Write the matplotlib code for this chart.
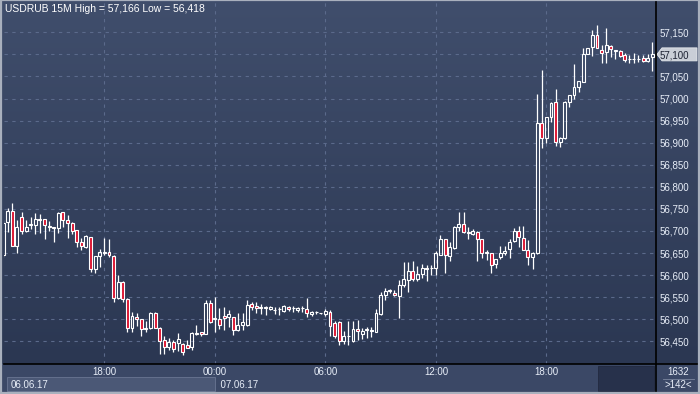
import numpy as np
import pandas as pd
import matplotlib
matplotlib.use("Agg")
import matplotlib.pyplot as plt
import matplotlib.transforms as mtransforms
from matplotlib.patches import Rectangle, Polygon
from matplotlib.colors import LinearSegmentedColormap

# ================= DADOS =================
SYMBOL = "USDRUB"
PERIOD = "15M"
START = "2017-06-06 12:30"

open_ = [56.645, 56.721, 56.745, 56.665, 56.732, 56.700, 56.714, 56.713, 56.727, 56.726,
         56.708, 56.709, 56.706, 56.742, 56.724, 56.719, 56.701, 56.675, 56.664, 56.686,
         56.613, 56.644, 56.651, 56.652, 56.644, 56.548, 56.584, 56.545, 56.479, 56.505,
         56.500, 56.478, 56.479, 56.513, 56.479, 56.452, 56.438, 56.449, 56.447, 56.445,
         56.441, 56.436, 56.467, 56.470, 56.467, 56.537, 56.501, 56.500, 56.507, 56.504,
         56.505, 56.475, 56.487, 56.487, 56.534, 56.530, 56.526, 56.526, 56.523, 56.521,
         56.523, 56.519, 56.528, 56.525, 56.521, 56.525, 56.523, 56.512, 56.516, 56.513,
         56.512, 56.516, 56.491, 56.493, 56.451, 56.461, 56.451, 56.477, 56.466, 56.476,
         56.474, 56.472, 56.512, 56.555, 56.565, 56.560, 56.553, 56.578, 56.589, 56.609,
         56.591, 56.602, 56.614, 56.616, 56.615, 56.646, 56.681, 56.644, 56.661, 56.710,
         56.715, 56.698, 56.694, 56.698, 56.681, 56.649, 56.650, 56.624, 56.640, 56.651,
         56.658, 56.678, 56.699, 56.683, 56.657, 56.640, 56.651, 56.944, 56.910, 56.959,
         56.993, 56.902, 56.910, 56.991, 57.008, 57.025, 57.038, 57.101, 57.116, 57.144,
         57.111, 57.105, 57.119, 57.108, 57.108, 57.098, 57.089, 57.089, 57.089, 57.091,
         57.086, 57.093]

high = [56.725, 56.752, 56.764, 56.725, 56.742, 56.724, 56.732, 56.741, 56.739, 56.727,
        56.723, 56.710, 56.743, 56.744, 56.736, 56.720, 56.702, 56.683, 56.690, 56.687,
        56.644, 56.660, 56.683, 56.681, 56.645, 56.600, 56.586, 56.548, 56.517, 56.513,
        56.501, 56.495, 56.517, 56.516, 56.483, 56.461, 56.457, 56.453, 56.468, 56.446,
        56.454, 56.470, 56.487, 56.471, 56.544, 56.544, 56.550, 56.526, 56.527, 56.522,
        56.506, 56.513, 56.513, 56.544, 56.540, 56.540, 56.534, 56.531, 56.531, 56.528,
        56.528, 56.532, 56.531, 56.530, 56.528, 56.530, 56.549, 56.519, 56.519, 56.515,
        56.523, 56.521, 56.496, 56.496, 56.474, 56.496, 56.496, 56.498, 56.481, 56.482,
        56.482, 56.524, 56.562, 56.571, 56.568, 56.566, 56.589, 56.630, 56.630, 56.632,
        56.621, 56.624, 56.623, 56.623, 56.655, 56.691, 56.682, 56.676, 56.711, 56.743,
        56.744, 56.710, 56.705, 56.700, 56.682, 56.657, 56.651, 56.637, 56.667, 56.667,
        56.681, 56.706, 56.711, 56.711, 56.680, 56.652, 57.010, 57.065, 56.958, 56.993,
        57.021, 56.912, 56.994, 57.008, 57.078, 57.040, 57.114, 57.114, 57.155, 57.166,
        57.121, 57.159, 57.121, 57.111, 57.109, 57.102, 57.098, 57.102, 57.098, 57.098,
        57.100, 57.129]

low = [56.642, 56.698, 56.665, 56.650, 56.694, 56.697, 56.704, 56.692, 56.696, 56.681,
       56.700, 56.676, 56.695, 56.710, 56.683, 56.693, 56.664, 56.657, 56.662, 56.608,
       56.604, 56.619, 56.646, 56.641, 56.540, 56.545, 56.540, 56.470, 56.472, 56.485,
       56.461, 56.472, 56.478, 56.481, 56.422, 56.422, 56.430, 56.426, 56.428, 56.418,
       56.434, 56.430, 56.464, 56.463, 56.466, 56.491, 56.470, 56.477, 56.476, 56.483,
       56.464, 56.474, 56.476, 56.485, 56.521, 56.513, 56.512, 56.510, 56.521, 56.512,
       56.509, 56.517, 56.519, 56.516, 56.516, 56.516, 56.504, 56.507, 56.512, 56.511,
       56.507, 56.461, 56.457, 56.442, 56.444, 56.442, 56.449, 56.453, 56.455, 56.458,
       56.459, 56.470, 56.510, 56.544, 56.559, 56.553, 56.502, 56.574, 56.562, 56.587,
       56.587, 56.594, 56.587, 56.600, 56.600, 56.646, 56.605, 56.632, 56.659, 56.699,
       56.695, 56.682, 56.691, 56.633, 56.638, 56.634, 56.605, 56.615, 56.636, 56.646,
       56.638, 56.676, 56.664, 56.656, 56.623, 56.613, 56.648, 56.888, 56.899, 56.947,
       56.892, 56.891, 56.909, 56.980, 57.000, 57.015, 57.038, 57.100, 57.096, 57.114,
       57.080, 57.081, 57.093, 57.089, 57.094, 57.083, 57.080, 57.081, 57.083, 57.083,
       57.083, 57.063]

close = [56.719, 56.745, 56.665, 56.710, 56.700, 56.709, 56.716, 56.728, 56.725, 56.713,
         56.711, 56.706, 56.741, 56.725, 56.717, 56.700, 56.676, 56.666, 56.688, 56.613,
         56.643, 56.652, 56.653, 56.646, 56.548, 56.584, 56.545, 56.480, 56.507, 56.500,
         56.478, 56.479, 56.515, 56.481, 56.451, 56.438, 56.449, 56.432, 56.455, 56.426,
         56.435, 56.468, 56.469, 56.466, 56.537, 56.493, 56.503, 56.486, 56.502, 56.511,
         56.475, 56.486, 56.493, 56.532, 56.527, 56.525, 56.528, 56.527, 56.528, 56.522,
         56.524, 56.530, 56.523, 56.526, 56.526, 56.526, 56.514, 56.517, 56.517, 56.514,
         56.519, 56.485, 56.463, 56.451, 56.461, 56.462, 56.478, 56.473, 56.474, 56.477,
         56.475, 56.513, 56.555, 56.565, 56.566, 56.555, 56.578, 56.591, 56.609, 56.591,
         56.602, 56.615, 56.615, 56.617, 56.650, 56.681, 56.646, 56.664, 56.710, 56.715,
         56.697, 56.695, 56.699, 56.681, 56.650, 56.652, 56.623, 56.636, 56.651, 56.655,
         56.674, 56.699, 56.686, 56.657, 56.640, 56.651, 56.944, 56.910, 56.957, 56.989,
         56.902, 56.910, 56.993, 57.008, 57.025, 57.040, 57.101, 57.114, 57.144, 57.114,
         57.102, 57.121, 57.112, 57.109, 57.096, 57.087, 57.089, 57.090, 57.090, 57.086,
         57.091, 57.100]

price_ticks = [56.45, 56.50, 56.55, 56.60, 56.65, 56.70, 56.75, 56.80,
               56.85, 56.90, 56.95, 57.00, 57.05, 57.10, 57.15]
bars_total = 1632

# ================= CORES =================
BG_TOP, BG_BOT = "#404e6c", "#2b3752"
GRID = "#5b6a8b"
RED = "#dc1430"
TXT = "#e8eef8"

W, H = 700, 394
PLOT_L, PLOT_R, PLOT_T, PLOT_B = 3.5, 656, 2, 364

o = np.array(open_); h = np.array(high); l = np.array(low); c = np.array(close)
x = np.arange(len(c))
times = pd.date_range(START, periods=len(c), freq="15min")

plt.rcParams['font.family'] = ['Liberation Sans', 'DejaVu Sans']
fig = plt.figure(figsize=(W / 100, H / 100), dpi=100)
fig.patch.set_facecolor("#3a4764")

# fundo com degradê (coordenadas em pixels)
ax_bg = fig.add_axes([0, 0, 1, 1])
ax_bg.set_xlim(0, W); ax_bg.set_ylim(H, 0); ax_bg.axis("off")
cmap = LinearSegmentedColormap.from_list("bg", [BG_TOP, BG_BOT])
ax_bg.imshow(np.linspace(0, 1, 256).reshape(-1, 1), cmap=cmap, aspect="auto",
             extent=(0, W, PLOT_B, 0), zorder=0)
ax_bg.add_patch(Rectangle((0, PLOT_B), W, H - PLOT_B, facecolor="#3b4866", edgecolor="none", zorder=1))

# eixo principal
ax = fig.add_axes([PLOT_L / W, (H - PLOT_B) / H, (PLOT_R - PLOT_L) / W, (PLOT_B - PLOT_T) / H])
ax.patch.set_visible(False)
ymin = 57.150 - (PLOT_B - 32.3) * 0.0022654
ymax = 57.150 + (32.3 - PLOT_T) * 0.0022654
ax.set_ylim(ymin, ymax)
ax.set_xlim((PLOT_L - 3.1) / 4.604, (PLOT_R - 3.1) / 4.604)

for s in ["left", "top"]:
    ax.spines[s].set_visible(False)
for s in ["right", "bottom"]:
    ax.spines[s].set_color("#000000"); ax.spines[s].set_linewidth(1.2)

# grade
for p in price_ticks:
    ax.axhline(p, color=GRID, lw=0.8, ls=(0, (3, 4)), zorder=1)
tick_idx = [i for i, t in enumerate(times) if t.minute == 0 and t.hour % 6 == 0]
for i in tick_idx:
    ax.axvline(i, color=GRID, lw=0.8, ls=(0, (3, 4)), zorder=1)

# candles
top = np.maximum(o, c); bot = np.minimum(o, c)
ax.vlines(x, top, h, color="white", lw=0.9, zorder=3)
ax.vlines(x, l, bot, color="white", lw=0.9, zorder=3)
up = c >= o
ax.bar(x[up], (c - o)[up], bottom=o[up], width=0.64, facecolor="none",
       edgecolor="white", linewidth=0.8, zorder=4)
ax.bar(x[~up], (o - c)[~up], bottom=c[~up], width=0.64, facecolor=RED,
       edgecolor="white", linewidth=0.8, zorder=4)

# eixo de preços à direita
ax.yaxis.tick_right()
ax.set_yticks(price_ticks)
ax.set_yticklabels([f"{p:.3f}".replace(".", ",") for p in price_ticks])
ax.tick_params(axis="y", length=0, pad=2.2, labelsize=7, labelcolor=TXT)
ax.set_xticks([])

# marcador do último preço
last = c[-1]
k = (ymax - ymin) / (PLOT_B - PLOT_T)
tr = mtransforms.blended_transform_factory(ax_bg.transData, ax.transData)
ax_bg.add_patch(Polygon([(657, last), (662, last + 6.5 * k), (697, last + 6.5 * k),
                         (697, last - 6.5 * k), (662, last - 6.5 * k)], closed=True,
                        facecolor="#c9ced7", edgecolor="#e4e7ec", lw=0.6, transform=tr, zorder=5))
lbl = [t for t, p in zip(ax.get_yticklabels(), price_ticks) if abs(p - round(last, 2)) < 1e-6]
for t in lbl:
    t.set_color("#1c2233")

# título
fig.text(5 / W, 1 - 9 / H, f"{SYMBOL} {PERIOD} High = {h.max():.3f}".replace(".", ",")
         + f" Low = {l.min():.3f}".replace(".", ","), color="white", fontsize=7.5,
         va="center", ha="left")

# eixo de tempo
trx = mtransforms.blended_transform_factory(ax.transData, ax_bg.transData)
for i in tick_idx:
    ax_bg.text(i, 372, times[i].strftime("%H:%M"), transform=trx, ha="center", va="center",
               fontsize=7, color=TXT, zorder=6)

day_start = [i for i in range(len(times)) if i == 0 or times[i].date() != times[i - 1].date()]
day_end = day_start[1]
x0_px = 7
x1_px = ax.transData.transform((day_end, 0))[0] * 100 / fig.dpi
ax_bg.add_patch(Rectangle((x0_px, 377), x1_px - x0_px, 14, facecolor="#4b5876",
                          edgecolor="#6a7692", lw=0.6, zorder=2))
ax_bg.text(x0_px + 4, 384.5, times[0].strftime("%d.%m.%y"), fontsize=7, color=TXT,
           va="center", ha="left", zorder=6)
ax_bg.text(day_end, 384.5, "  " + times[day_end].strftime("%d.%m.%y"), transform=trx,
           fontsize=7, color=TXT, va="center", ha="left", zorder=6)
ax_bg.add_patch(Rectangle((598, 366), 56, 25, facecolor="#27314b", edgecolor="#222a40",
                          lw=0.6, zorder=2))

# painel inferior direito
ax_bg.plot([PLOT_R, PLOT_R], [PLOT_B, H - 2], color="black", lw=1.2, zorder=3)
ax_bg.plot([PLOT_R, W], [PLOT_B, PLOT_B], color="black", lw=1.2, zorder=3)
ax_bg.plot([663, 694], [378.5, 378.5], color="#7c879f", lw=0.6, zorder=3)
ax_bg.text(678, 372, str(bars_total), fontsize=7, color=TXT, ha="center", va="center", zorder=6)
ax_bg.text(678, 385.5, f">{len(c)}<", fontsize=7, color=TXT, ha="center", va="center", zorder=6)

# moldura
ax_bg.add_patch(Rectangle((0.8, 0), W - 1.6, H - 0.8, facecolor="none",
                          edgecolor="#a9b0bd", lw=1.6, zorder=7))

fig.savefig("out.png", dpi=100, facecolor=fig.get_facecolor())
